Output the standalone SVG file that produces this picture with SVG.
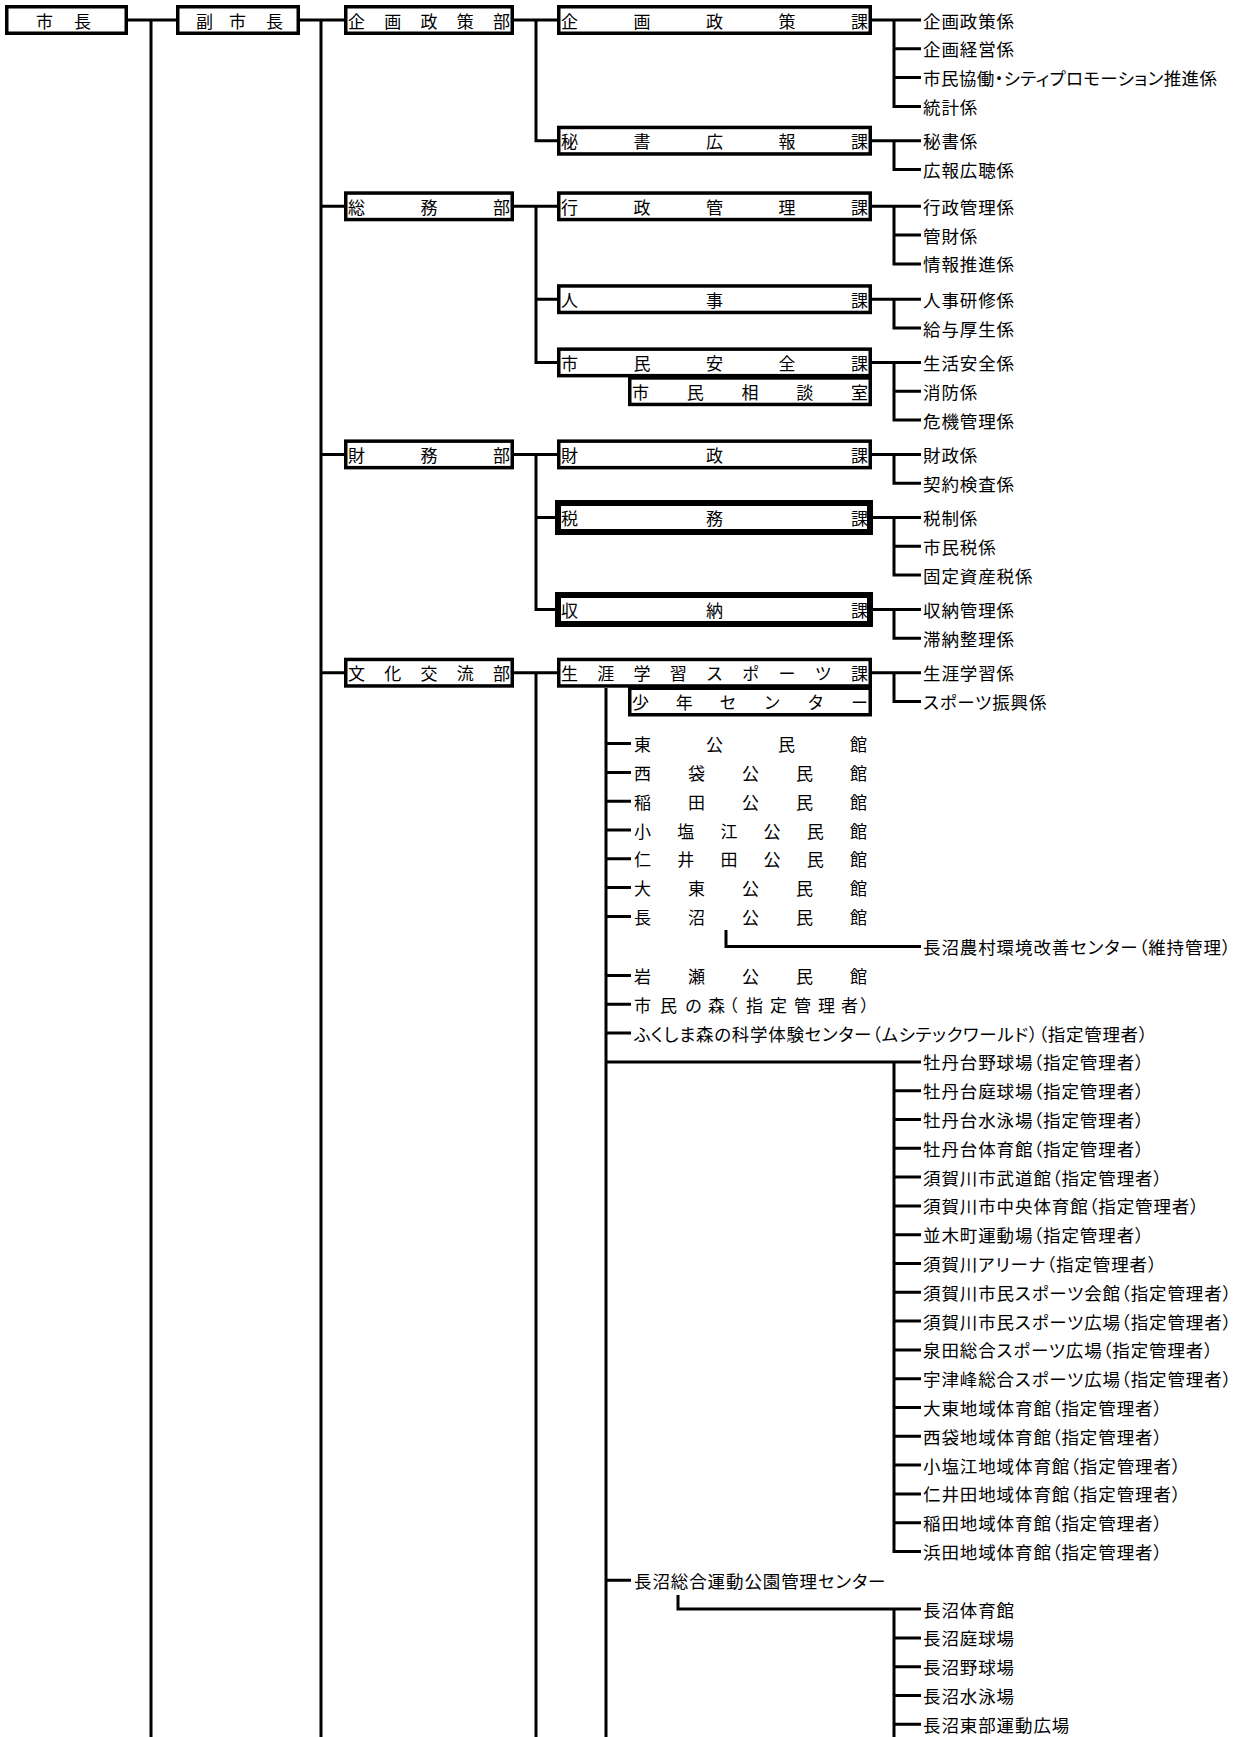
<svg xmlns="http://www.w3.org/2000/svg" width="1239" height="1737" viewBox="0 0 1239 1737">
<style>
.bx{fill:#fff;stroke:#000;stroke-width:3.5}
.bk{fill:#fff;stroke:#000;stroke-width:6}
.ln{fill:none;stroke:#000;stroke-width:3;stroke-linejoin:miter}
text{font-family:"Noto Sans CJK JP","Noto Sans CJK SC",sans-serif;fill:#000;dominant-baseline:central}
.d{font-size:17px}
.t{font-size:17.5px;letter-spacing:0.9px;font-feature-settings:"palt"}
</style>
<rect width="1239" height="1737" fill="#fff"/>
<g id="connectors" class="ln">
<path d="M128 20H176M151 20V1737M300 20H344M321 20V1737M321 206.3H344M321 454.4H344M321 672.7H344"/>
<path d="M514 20H557M536 20V140.7H557"/>
<path d="M514 206.3H557M536 206.3V362.4H557M536 299.2H557"/>
<path d="M514 454.4H557M536 454.4V609.5H555M536 517.5H555"/>
<path d="M514 672.7H557M536 672.7V1737"/>
<path d="M872 20H921M894 20V106.4H921M894 48.8H921M894 77.6H921"/>
<path d="M872 140.7H921M894 140.7V169.5H921"/>
<path d="M872 206.3H921M894 206.3V263.9H921M894 235.1H921"/>
<path d="M872 299.2H921M894 299.2V328H921"/>
<path d="M872 362.4H921M894 362.4V420H921M894 391.2H921"/>
<path d="M872 454.4H921M894 454.4V483.2H921"/>
<path d="M873 517.5H921M894 517.5V575.1H921M894 546.3H921"/>
<path d="M873 609.5H921M894 609.5V638.3H921"/>
<path d="M872 672.7H921M894 672.7V701.5H921"/>
<path d="M606 688V1737M606 743.6H631M606 772.4H631M606 801.2H631M606 830H631M606 858.8H631M606 887.6H631M606 916.4H631M606 975.5H631M606 1004.3H631M606 1033.1H631M606 1580.3H631"/>
<path d="M726 930V946.5H921"/>
<path d="M606 1061.9H921M894 1061.9V1551.5H921M894 1090.7H921M894 1119.5H921M894 1148.3H921M894 1177.1H921M894 1205.9H921M894 1234.7H921M894 1263.5H921M894 1292.3H921M894 1321.1H921M894 1349.9H921M894 1378.7H921M894 1407.5H921M894 1436.3H921M894 1465.1H921M894 1493.9H921M894 1522.7H921"/>
<path d="M678 1595V1609.1H921M894 1609.1V1737M894 1637.9H921M894 1666.7H921M894 1695.5H921M894 1724.3H921"/>
</g>
<g id="n-mayor"><rect class="bx" x="6.75" y="6.75" width="119.5" height="26.5"/><text class="d" x="36 74" y="20">市長</text></g>
<g id="n-vicemayor"><rect class="bx" x="177.75" y="6.75" width="120.5" height="26.5"/><text class="d" x="196 229 266" y="20">副市長</text></g>
<g id="n-kikakuseisakubu"><rect class="bx" x="345.75" y="6.75" width="166.5" height="26.5"/><text class="d" x="348 384.25 420.5 456.75 493" y="20">企画政策部</text></g>
<g id="n-somubu"><rect class="bx" x="345.75" y="193.05" width="166.5" height="26.5"/><text class="d" x="348 420.5 493" y="206.3">総務部</text></g>
<g id="n-zaimubu"><rect class="bx" x="345.75" y="441.15" width="166.5" height="26.5"/><text class="d" x="348 420.5 493" y="454.4">財務部</text></g>
<g id="n-bunkakoryubu"><rect class="bx" x="345.75" y="659.45" width="166.5" height="26.5"/><text class="d" x="348 384.25 420.5 456.75 493" y="672.7">文化交流部</text></g>
<g id="n-kikakuseisakuka"><rect class="bx" x="558.75" y="6.75" width="311.5" height="26.5"/><text class="d" x="561 633.5 706 778.5 851" y="20">企画政策課</text></g>
<g id="n-hishokohoka"><rect class="bx" x="558.75" y="127.45" width="311.5" height="26.5"/><text class="d" x="561 633.5 706 778.5 851" y="140.7">秘書広報課</text></g>
<g id="n-gyoseikanrika"><rect class="bx" x="558.75" y="193.05" width="311.5" height="26.5"/><text class="d" x="561 633.5 706 778.5 851" y="206.3">行政管理課</text></g>
<g id="n-jinjika"><rect class="bx" x="558.75" y="285.95" width="311.5" height="26.5"/><text class="d" x="561 706 851" y="299.2">人事課</text></g>
<g id="n-shiminanzenka"><rect class="bx" x="558.75" y="349.15" width="311.5" height="26.5"/><text class="d" x="561 633.5 706 778.5 851" y="362.4">市民安全課</text></g>
<g id="n-shiminsodanshitsu"><rect class="bx" x="629.75" y="377.95" width="240.5" height="26.5"/><text class="d" x="632 686.75 741.5 796.25 851" y="391.2">市民相談室</text></g>
<g id="n-zaiseika"><rect class="bx" x="558.75" y="441.15" width="311.5" height="26.5"/><text class="d" x="561 706 851" y="454.4">財政課</text></g>
<g id="n-zeimuka"><rect class="bk" x="558" y="503" width="312" height="29"/><text class="d" x="561 706 851" y="517.5">税務課</text></g>
<g id="n-shunoka"><rect class="bk" x="558" y="595" width="312" height="29"/><text class="d" x="561 706 851" y="609.5">収納課</text></g>
<g id="n-shogaigakushu"><rect class="bx" x="558.75" y="659.45" width="311.5" height="26.5"/><text class="d" x="561 597.25 633.5 669.75 706 742.25 778.5 814.75 851" y="672.7">生涯学習スポーツ課</text></g>
<g id="n-shonencenter"><rect class="bx" x="629.75" y="688.25" width="240.5" height="26.5"/><text class="d" x="632 675.8 719.6 763.4 807.2 851" y="701.5">少年センター</text></g>
<g id="n-kakari">
<text class="t" x="923" y="20">企画政策係</text>
<text class="t" x="923" y="48.8">企画経営係</text>
<text class="t" x="923" y="77.6" style="letter-spacing:0.4px">市民協働・シティプロモーション推進係</text>
<text class="t" x="923" y="106.4">統計係</text>
<text class="t" x="923" y="140.7">秘書係</text>
<text class="t" x="923" y="169.5">広報広聴係</text>
<text class="t" x="923" y="206.3">行政管理係</text>
<text class="t" x="923" y="235.1">管財係</text>
<text class="t" x="923" y="263.9">情報推進係</text>
<text class="t" x="923" y="299.2">人事研修係</text>
<text class="t" x="923" y="328">給与厚生係</text>
<text class="t" x="923" y="362.4">生活安全係</text>
<text class="t" x="923" y="391.2">消防係</text>
<text class="t" x="923" y="420">危機管理係</text>
<text class="t" x="923" y="454.4">財政係</text>
<text class="t" x="923" y="483.2">契約検査係</text>
<text class="t" x="923" y="517.5">税制係</text>
<text class="t" x="923" y="546.3">市民税係</text>
<text class="t" x="923" y="575.1">固定資産税係</text>
<text class="t" x="923" y="609.5">収納管理係</text>
<text class="t" x="923" y="638.3">滞納整理係</text>
<text class="t" x="923" y="672.7">生涯学習係</text>
<text class="t" x="923" y="701.5">スポーツ振興係</text>
</g>
<g id="n-kominkan">
<text class="d" x="634 706 778 850" y="743.6">東公民館</text>
<text class="d" x="634 688 742 796 850" y="772.4">西袋公民館</text>
<text class="d" x="634 688 742 796 850" y="801.2">稲田公民館</text>
<text class="d" x="634 677.2 720.4 763.6 806.8 850" y="830">小塩江公民館</text>
<text class="d" x="634 677.2 720.4 763.6 806.8 850" y="858.8">仁井田公民館</text>
<text class="d" x="634 688 742 796 850" y="887.6">大東公民館</text>
<text class="d" x="634 688 742 796 850" y="916.4">長沼公民館</text>
<text class="t" x="923" y="946.5">長沼農村環境改善センター（維持管理）</text>
<text class="d" x="634 660 685 708 721 746 770 794 818 841 860" y="1004.3">市民の森（指定管理者）</text>
<text class="t" x="634" y="1033.1" style="letter-spacing:0.7px">ふくしま森の科学体験センター（ムシテックワールド）（指定管理者）</text>
<text class="d" x="634 688 742 796 850" y="975.5">岩瀬公民館</text>
</g>
<g id="n-sports">
<text class="t" x="923" y="1061.9">牡丹台野球場（指定管理者）</text>
<text class="t" x="923" y="1090.7">牡丹台庭球場（指定管理者）</text>
<text class="t" x="923" y="1119.5">牡丹台水泳場（指定管理者）</text>
<text class="t" x="923" y="1148.3">牡丹台体育館（指定管理者）</text>
<text class="t" x="923" y="1177.1">須賀川市武道館（指定管理者）</text>
<text class="t" x="923" y="1205.9">須賀川市中央体育館（指定管理者）</text>
<text class="t" x="923" y="1234.7">並木町運動場（指定管理者）</text>
<text class="t" x="923" y="1263.5">須賀川アリーナ（指定管理者）</text>
<text class="t" x="923" y="1292.3">須賀川市民スポーツ会館（指定管理者）</text>
<text class="t" x="923" y="1321.1">須賀川市民スポーツ広場（指定管理者）</text>
<text class="t" x="923" y="1349.9">泉田総合スポーツ広場（指定管理者）</text>
<text class="t" x="923" y="1378.7">宇津峰総合スポーツ広場（指定管理者）</text>
<text class="t" x="923" y="1407.5">大東地域体育館（指定管理者）</text>
<text class="t" x="923" y="1436.3">西袋地域体育館（指定管理者）</text>
<text class="t" x="923" y="1465.1">小塩江地域体育館（指定管理者）</text>
<text class="t" x="923" y="1493.9">仁井田地域体育館（指定管理者）</text>
<text class="t" x="923" y="1522.7">稲田地域体育館（指定管理者）</text>
<text class="t" x="923" y="1551.5">浜田地域体育館（指定管理者）</text>
</g>
<g id="n-naganuma">
<text class="t" x="634" y="1580.3">長沼総合運動公園管理センター</text>
<text class="t" x="923" y="1609.1">長沼体育館</text>
<text class="t" x="923" y="1637.9">長沼庭球場</text>
<text class="t" x="923" y="1666.7">長沼野球場</text>
<text class="t" x="923" y="1695.5">長沼水泳場</text>
<text class="t" x="923" y="1724.3">長沼東部運動広場</text>
</g>
</svg>
